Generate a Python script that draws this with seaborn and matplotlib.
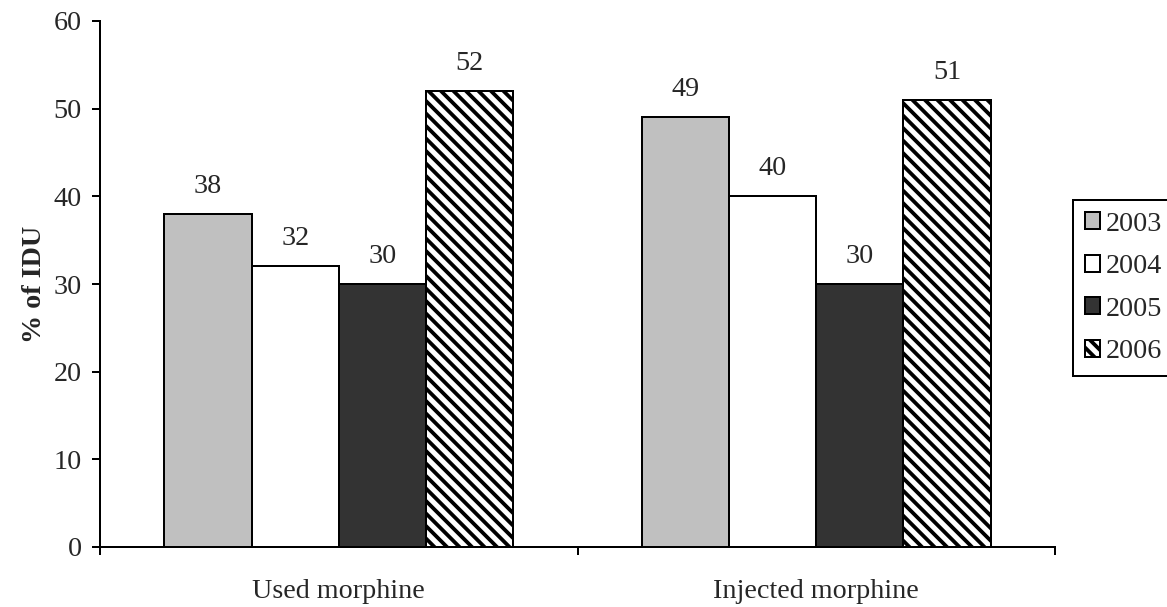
import matplotlib
matplotlib.use("Agg")
import matplotlib.pyplot as plt
import matplotlib.patches as mpatches
import pandas as pd
import seaborn as sns

# Survey data: share of injecting drug users (IDU) reporting morphine use
measures = ["Used morphine", "Injected morphine"]
years = ["2003", "2004", "2005", "2006"]
used_morphine = [38, 32, 30, 52]
injected_morphine = [49, 40, 30, 51]

year_colors = ["#c0c0c0", "#ffffff", "#333333", "#ffffff"]
year_hatches = ["", "", "", "\\\\"]

DPI = 75


def pt(px):
    """Convert a pixel size to points at the figure resolution."""
    return px * 72.0 / DPI


df = pd.DataFrame({
    "measure": [measures[0]] * len(years) + [measures[1]] * len(years),
    "year": years * 2,
    "value": used_morphine + injected_morphine,
})

sns.set_style("white")
plt.rcParams["font.family"] = ["Liberation Serif", "DejaVu Serif"]
plt.rcParams["hatch.linewidth"] = pt(3.8)
plt.rcParams["hatch.color"] = "black"

fs = 27

fig = plt.figure(figsize=(1167 / DPI, 607 / DPI), dpi=DPI)
ax = fig.add_axes([100 / 1167, 60 / 607, (1055 - 100) / 1167, (547 - 21) / 607])

sns.barplot(
    data=df, x="measure", y="value", hue="year", order=measures,
    hue_order=years, palette=year_colors, width=0.73, errorbar=None,
    edgecolor="black", linewidth=pt(2), saturation=1, legend=False, ax=ax,
)

for container, hatch in zip(ax.containers, year_hatches):
    for bar in container:
        bar.set_hatch(hatch)
        bar.set_edgecolor("black")
    ax.bar_label(container, labels=[f"{v:g}" for v in container.datavalues],
                 padding=pt(15), fontsize=fs)

ax.set_ylim(0, 60)
ax.set_yticks(range(0, 61, 10))
ax.set_xlim(-0.5, len(measures) - 0.5)

# Category boundaries carry the tick marks, labels sit at the centres
ax.set_xticks([i - 0.5 for i in range(len(measures) + 1)])
ax.set_xticklabels([])
ax.set_xticks(range(len(measures)), minor=True)
ax.set_xticklabels(measures, minor=True, fontsize=fs)
ax.tick_params(axis="x", which="minor", length=0, pad=pt(32))
ax.tick_params(axis="x", which="major", direction="out", length=pt(8),
               width=pt(2), color="black", bottom=True)
ax.tick_params(axis="y", direction="out", length=pt(8), width=pt(2),
               color="black", left=True, labelsize=fs, pad=pt(10))

ax.set_xlabel("")
ax.set_ylabel("% of IDU", fontsize=fs, fontweight="bold", labelpad=pt(7))

for side in ["top", "right"]:
    ax.spines[side].set_visible(False)
for side in ["left", "bottom"]:
    ax.spines[side].set_linewidth(pt(2))
    ax.spines[side].set_color("black")

handles = [
    mpatches.Patch(facecolor=c, edgecolor="black", hatch=h,
                   linewidth=pt(2), label=y)
    for y, c, h in zip(years, year_colors, year_hatches)
]
leg = fig.legend(
    handles=handles, loc="upper left",
    bbox_to_anchor=(1073 / 1167, 1 - 200 / 607), bbox_transform=fig.transFigure,
    fontsize=fs, frameon=True, fancybox=False, framealpha=1,
    edgecolor="black", borderaxespad=0, borderpad=0.42,
    handlelength=0.55, handleheight=0.55, handletextpad=0.18,
    labelspacing=0.62,
)
leg.get_frame().set_linewidth(pt(2))

fig.savefig("out.png", dpi=DPI)
